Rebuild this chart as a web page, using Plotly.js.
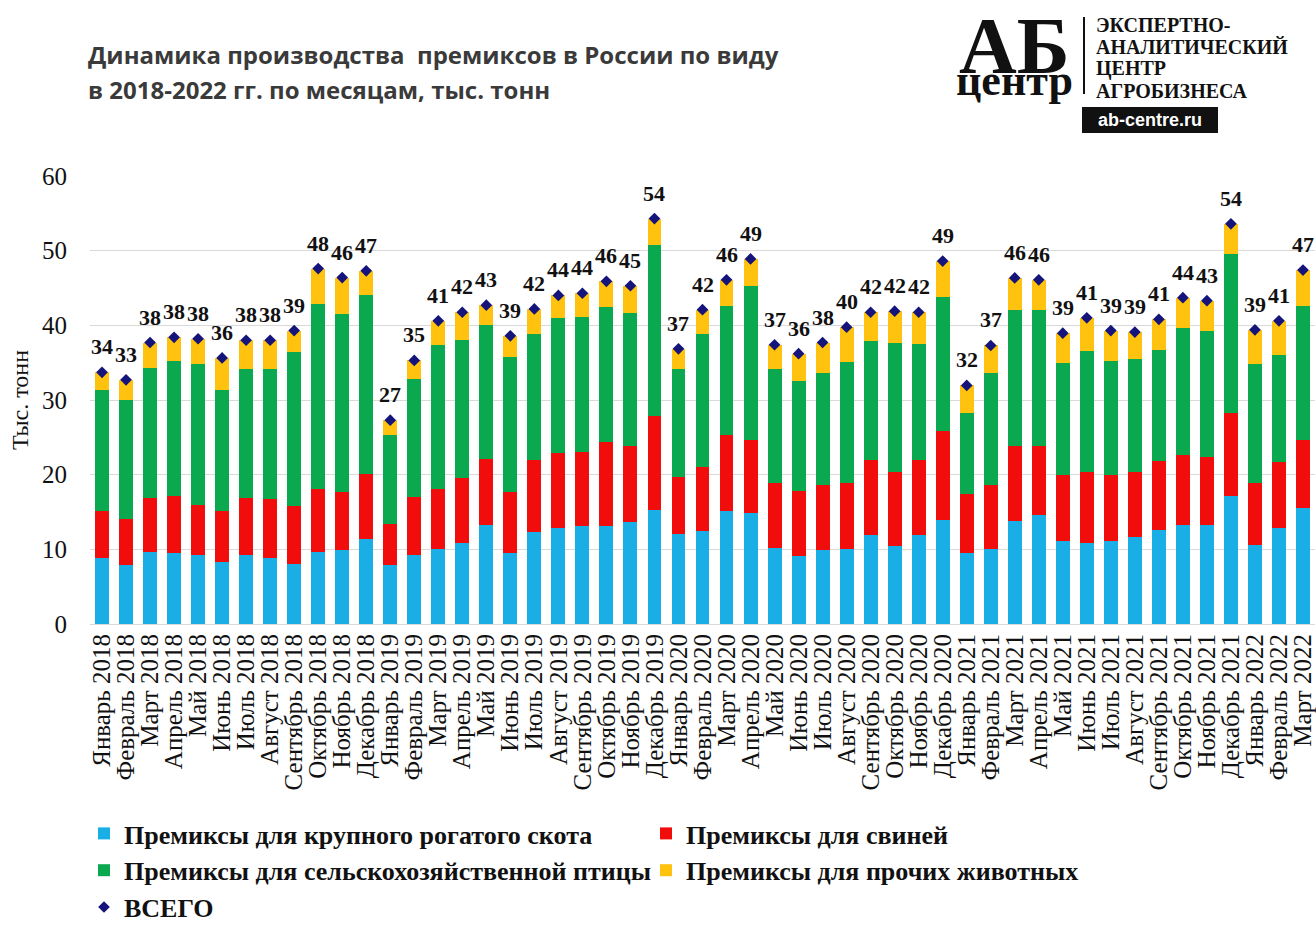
<!DOCTYPE html>
<html>
<head>
<meta charset="utf-8">
<script src="https://cdn.plot.ly/plotly-3.0.1.min.js"></script>
<style>
html,body{margin:0;padding:0;background:#fff;}
#chart{width:1316px;height:927px;}
</style>
</head>
<body>
<div id="chart"></div>
<script>
// ---- data (тыс. тонн) ----
const categories = [
  "Январь 2018","Февраль 2018","Март 2018","Апрель 2018","Май 2018","Июнь 2018","Июль 2018","Август 2018","Сентябрь 2018","Октябрь 2018","Ноябрь 2018","Декабрь 2018",
  "Январь 2019","Февраль 2019","Март 2019","Апрель 2019","Май 2019","Июнь 2019","Июль 2019","Август 2019","Сентябрь 2019","Октябрь 2019","Ноябрь 2019","Декабрь 2019",
  "Январь 2020","Февраль 2020","Март 2020","Апрель 2020","Май 2020","Июнь 2020","Июль 2020","Август 2020","Сентябрь 2020","Октябрь 2020","Ноябрь 2020","Декабрь 2020",
  "Январь 2021","Февраль 2021","Март 2021","Апрель 2021","Май 2021","Июнь 2021","Июль 2021","Август 2021","Сентябрь 2021","Октябрь 2021","Ноябрь 2021","Декабрь 2021",
  "Январь 2022","Февраль 2022","Март 2022"
];
const cattle = [
  8.8, 7.9, 9.7, 9.45, 9.3, 8.33, 9.2, 8.9, 8.0, 9.7, 9.9, 11.45,
  7.9, 9.2, 10.1, 10.8, 13.2, 9.5, 12.35, 12.9, 13.1, 13.1, 13.7, 15.3,
  12.0, 12.4, 15.15, 14.8, 10.2, 9.1, 9.9, 10.1, 11.9, 10.4, 11.9, 13.9,
  9.45, 10.1, 13.8, 14.6, 11.1, 10.9, 11.1, 11.7, 12.65, 13.2, 13.2, 17.1,
  10.6, 12.9, 15.5
];
const pigs = [
  6.35, 6.1, 7.2, 7.65, 6.6, 6.8, 7.7, 7.9, 7.8, 8.4, 7.8, 8.65,
  5.55, 7.8, 8.0, 8.7, 8.95, 8.2, 9.55, 10.0, 9.9, 11.3, 10.1, 12.6,
  7.7, 8.6, 10.15, 9.8, 8.7, 8.7, 8.7, 8.8, 10.0, 10.0, 10.0, 12.0,
  7.95, 8.5, 10.0, 9.2, 8.8, 9.5, 8.9, 8.7, 9.15, 9.5, 9.1, 11.1,
  8.3, 8.8, 9.2
];
const poultry = [
  16.15, 15.95, 17.4, 18.1, 18.9, 16.15, 17.3, 17.3, 20.6, 24.8, 23.8, 23.9,
  11.85, 15.8, 19.2, 18.6, 17.95, 18.1, 17.0, 18.05, 18.1, 18.0, 17.9, 22.9,
  14.4, 17.9, 17.35, 20.7, 15.2, 14.7, 15.05, 16.2, 16.05, 17.3, 15.6, 17.95,
  10.8, 15.0, 18.3, 18.3, 15.0, 16.2, 15.2, 15.1, 14.9, 17.0, 16.9, 21.3,
  15.9, 14.3, 17.95
];
const others = [
  2.4, 2.75, 3.4, 3.2, 3.4, 4.35, 3.8, 3.9, 2.9, 4.7, 4.9, 3.3,
  2.0, 2.5, 3.3, 3.65, 2.6, 2.8, 3.3, 3.05, 3.2, 3.5, 3.6, 3.5,
  2.75, 3.2, 3.45, 3.6, 3.3, 3.7, 4.05, 4.65, 3.8, 4.2, 4.25, 4.75,
  3.75, 3.7, 4.25, 4.0, 4.05, 4.4, 4.1, 3.6, 4.1, 4.0, 4.1, 4.1,
  4.6, 4.6, 4.75
];
const seriesNames = [
  "Премиксы для крупного рогатого скота",
  "Премиксы для свиней",
  "Премиксы для сельскохозяйственной птицы",
  "Премиксы для прочих животных",
  "ВСЕГО"
];
const yTicks = [0, 10, 20, 30, 40, 50, 60];

const total = categories.map((_, i) => cattle[i] + pigs[i] + poultry[i] + others[i]);

// ---- layout helpers (pixel -> paper) ----
const W = 1316, H = 927;
const M = {l: 90, r: 1, t: 176, b: 303, autoexpand: false};
const PW = W - M.l - M.r, PH = H - M.t - M.b;
const px = x => (x - M.l) / PW;
const py = y => (H - M.b - y) / PH;

const serif = "Liberation Serif, Times New Roman, serif";
const colors = ["#19aee6", "#f20d0d", "#0aa84f", "#ffc20e"];

const traces = [cattle, pigs, poultry, others].map((vals, k) => ({
  type: "bar",
  name: seriesNames[k],
  x: categories,
  y: vals,
  marker: {color: colors[k], line: {width: 0}},
  hoverinfo: "name+y"
}));
traces.push({
  type: "scatter",
  mode: "markers",
  name: seriesNames[4],
  x: categories,
  y: total,
  marker: {symbol: "diamond", size: 9, color: "#14147a"},
  hoverinfo: "y"
});

const annotations = categories.map((c, i) => ({
  x: c, y: total[i], xref: "x", yref: "y",
  text: String(Math.round(total[i])),
  showarrow: false, yanchor: "bottom", yshift: 11,
  font: {family: serif, size: 22, color: "#111", weight: "bold"}
}));

// title
annotations.push({
  xref: "paper", yref: "paper", x: px(86), y: py(55), xanchor: "left", yanchor: "middle",
  text: "<b>Динамика производства  премиксов в России по виду</b>", showarrow: false,
  font: {family: "Open Sans, sans-serif", size: 24, color: "#3a3a3a"}
});
annotations.push({
  xref: "paper", yref: "paper", x: px(86), y: py(90), xanchor: "left", yanchor: "middle",
  text: "<b>в 2018-2022 гг. по месяцам, тыс. тонн</b>", showarrow: false,
  font: {family: "Open Sans, sans-serif", size: 24, color: "#3a3a3a"}
});

// logo: one text block, tight line spacing set by the small base size
annotations.push({
  xref: "paper", yref: "paper", x: px(1014), y: py(53), xanchor: "center", yanchor: "middle",
  text: "<b><span style='font-size:80px'>АБ</span></b><br><b><span style='font-size:44px'>центр</span></b>",
  showarrow: false,
  font: {family: serif, size: 17, color: "#111"}
});
const logoLines = ["ЭКСПЕРТНО-", "АНАЛИТИЧЕСКИЙ", "ЦЕНТР", "АГРОБИЗНЕСА"];
logoLines.forEach((t, k) => annotations.push({
  xref: "paper", yref: "paper", x: px(1094), y: py(25 + k * 22), xanchor: "left", yanchor: "middle",
  text: "<b>" + t + "</b>", showarrow: false,
  font: {family: serif, size: 20, color: "#111"}
}));
annotations.push({
  xref: "paper", yref: "paper", x: px(1150), y: py(120), xanchor: "center", yanchor: "middle",
  text: "<b>ab-centre.ru</b>", showarrow: false,
  font: {family: "Liberation Sans, Arial, sans-serif", size: 18, color: "#fff"}
});

const shapes = [
  {type: "line", xref: "paper", yref: "paper", x0: px(1084), x1: px(1084), y0: py(17), y1: py(94),
   line: {color: "#111", width: 2}},
  {type: "rect", xref: "paper", yref: "paper", x0: px(1082), x1: px(1218), y0: py(107), y1: py(133),
   fillcolor: "#111", line: {width: 0}, layer: "below"}
];

const layout = {
  width: W, height: H,
  margin: M,
  paper_bgcolor: "#fff", plot_bgcolor: "#fff",
  barmode: "stack",
  bargap: 0.42,
  showlegend: true,
  legend: {
    orientation: "h", x: px(84), y: py(810), xanchor: "left", yanchor: "top",
    entrywidth: 517, entrywidthmode: "pixels",
    font: {family: serif, size: 26, color: "#111", weight: "bold"},
    traceorder: "normal", itemclick: false
  },
  xaxis: {
    type: "category",
    tickmode: "array", tickvals: categories, ticktext: categories,
    tickangle: -90,
    tickfont: {family: serif, size: 25, color: "#111"},
    ticks: "", showgrid: false, showline: false, zeroline: false,
    ticklabelstandoff: 4,
    range: [-0.5, categories.length - 0.5],
    automargin: false
  },
  yaxis: {
    range: [0, 60],
    tickmode: "array", tickvals: yTicks,
    tickfont: {family: serif, size: 25, color: "#111"},
    showgrid: true, gridcolor: "#d9d9d9", gridwidth: 1,
    zeroline: true, zerolinecolor: "#d9d9d9", zerolinewidth: 1,
    showline: false, ticks: "",
    ticklabelstandoff: 22,
    title: {text: "Тыс. тонн", font: {family: serif, size: 24, color: "#111"}, standoff: 6},
    automargin: false
  },
  annotations: annotations,
  shapes: shapes
};

Plotly.newPlot("chart", traces, layout, {displayModeBar: false, staticPlot: true});
</script>
</body>
</html>
